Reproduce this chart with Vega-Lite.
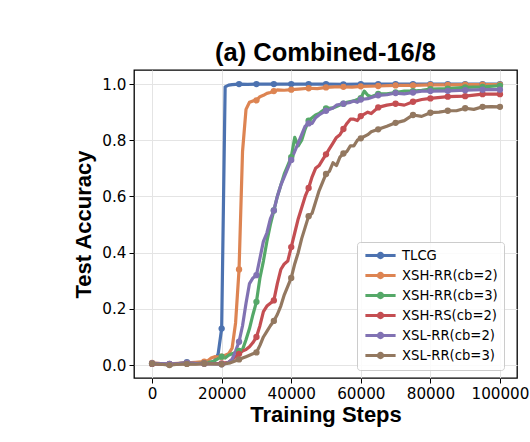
{
  "$schema": "https://vega.github.io/schema/vega-lite/v6.json",
  "description": "Test accuracy over training steps for six methods on Combined-16/8.",
  "width": 383,
  "height": 308,
  "autosize": "none",
  "padding": {"left": 134, "top": 70, "right": 13, "bottom": 64},
  "background": "white",
  "title": {
    "text": "(a) Combined-16/8",
    "font": "Liberation Sans",
    "fontSize": 25.5,
    "fontWeight": "bold",
    "color": "black",
    "anchor": "middle",
    "baseline": "alphabetic",
    "offset": 12,
    "dy": 28
  },
  "config": {
    "view": {"stroke": "black", "strokeWidth": 1.3},
    "axis": {
      "domain": false,
      "grid": true,
      "gridColor": "#e4e4e4",
      "gridWidth": 1,
      "tickColor": "black",
      "tickSize": 5,
      "tickWidth": 1,
      "labelFont": "DejaVu Sans",
      "labelFontSize": 15.2,
      "labelColor": "black",
      "labelPadding": 3,
      "titleFont": "Liberation Sans",
      "titleFontSize": 22,
      "titleFontWeight": "bold",
      "titleColor": "black"
    }
  },
  "data": {
    "values": [
      {"s": "TLCG", "x": 0, "y": 0.006}, {"s": "TLCG", "x": 2500, "y": 0.004}, {"s": "TLCG", "x": 5000, "y": 0.002},
      {"s": "TLCG", "x": 7500, "y": 0.005}, {"s": "TLCG", "x": 10000, "y": 0.01}, {"s": "TLCG", "x": 12500, "y": 0.006},
      {"s": "TLCG", "x": 15000, "y": 0.008}, {"s": "TLCG", "x": 17000, "y": 0.01}, {"s": "TLCG", "x": 18000, "y": 0.015},
      {"s": "TLCG", "x": 19000, "y": 0.04}, {"s": "TLCG", "x": 20000, "y": 0.13}, {"s": "TLCG", "x": 21000, "y": 0.99},
      {"s": "TLCG", "x": 22000, "y": 0.996}, {"s": "TLCG", "x": 23000, "y": 0.998}, {"s": "TLCG", "x": 25000, "y": 1.0},
      {"s": "TLCG", "x": 27500, "y": 0.999}, {"s": "TLCG", "x": 30000, "y": 1.0}, {"s": "TLCG", "x": 35000, "y": 1.0},
      {"s": "TLCG", "x": 40000, "y": 1.0}, {"s": "TLCG", "x": 45000, "y": 1.0}, {"s": "TLCG", "x": 50000, "y": 1.0},
      {"s": "TLCG", "x": 55000, "y": 0.999}, {"s": "TLCG", "x": 60000, "y": 1.0}, {"s": "TLCG", "x": 65000, "y": 1.0},
      {"s": "TLCG", "x": 70000, "y": 1.0}, {"s": "TLCG", "x": 75000, "y": 1.0}, {"s": "TLCG", "x": 80000, "y": 1.0},
      {"s": "TLCG", "x": 85000, "y": 1.0}, {"s": "TLCG", "x": 90000, "y": 1.0}, {"s": "TLCG", "x": 95000, "y": 1.0},
      {"s": "TLCG", "x": 100000, "y": 1.0},

      {"s": "XSH-RR(cb=2)", "x": 0, "y": 0.008}, {"s": "XSH-RR(cb=2)", "x": 2500, "y": 0.005}, {"s": "XSH-RR(cb=2)", "x": 5000, "y": 0.004},
      {"s": "XSH-RR(cb=2)", "x": 7500, "y": 0.006}, {"s": "XSH-RR(cb=2)", "x": 10000, "y": 0.008}, {"s": "XSH-RR(cb=2)", "x": 12500, "y": 0.01},
      {"s": "XSH-RR(cb=2)", "x": 15000, "y": 0.012}, {"s": "XSH-RR(cb=2)", "x": 16000, "y": 0.015}, {"s": "XSH-RR(cb=2)", "x": 17000, "y": 0.025},
      {"s": "XSH-RR(cb=2)", "x": 18000, "y": 0.03}, {"s": "XSH-RR(cb=2)", "x": 19000, "y": 0.028}, {"s": "XSH-RR(cb=2)", "x": 20000, "y": 0.03},
      {"s": "XSH-RR(cb=2)", "x": 21000, "y": 0.035}, {"s": "XSH-RR(cb=2)", "x": 22000, "y": 0.04}, {"s": "XSH-RR(cb=2)", "x": 23000, "y": 0.06},
      {"s": "XSH-RR(cb=2)", "x": 24000, "y": 0.15}, {"s": "XSH-RR(cb=2)", "x": 25000, "y": 0.34}, {"s": "XSH-RR(cb=2)", "x": 26000, "y": 0.76},
      {"s": "XSH-RR(cb=2)", "x": 27000, "y": 0.91}, {"s": "XSH-RR(cb=2)", "x": 28000, "y": 0.935}, {"s": "XSH-RR(cb=2)", "x": 29000, "y": 0.94},
      {"s": "XSH-RR(cb=2)", "x": 30000, "y": 0.942}, {"s": "XSH-RR(cb=2)", "x": 31000, "y": 0.955}, {"s": "XSH-RR(cb=2)", "x": 32000, "y": 0.96},
      {"s": "XSH-RR(cb=2)", "x": 33000, "y": 0.967}, {"s": "XSH-RR(cb=2)", "x": 34000, "y": 0.97}, {"s": "XSH-RR(cb=2)", "x": 35000, "y": 0.975},
      {"s": "XSH-RR(cb=2)", "x": 36000, "y": 0.979}, {"s": "XSH-RR(cb=2)", "x": 38000, "y": 0.978}, {"s": "XSH-RR(cb=2)", "x": 40000, "y": 0.98},
      {"s": "XSH-RR(cb=2)", "x": 42000, "y": 0.982}, {"s": "XSH-RR(cb=2)", "x": 45000, "y": 0.985}, {"s": "XSH-RR(cb=2)", "x": 47500, "y": 0.984},
      {"s": "XSH-RR(cb=2)", "x": 50000, "y": 0.988}, {"s": "XSH-RR(cb=2)", "x": 52500, "y": 0.99}, {"s": "XSH-RR(cb=2)", "x": 55000, "y": 0.99},
      {"s": "XSH-RR(cb=2)", "x": 57500, "y": 0.989}, {"s": "XSH-RR(cb=2)", "x": 60000, "y": 0.992}, {"s": "XSH-RR(cb=2)", "x": 65000, "y": 0.993},
      {"s": "XSH-RR(cb=2)", "x": 70000, "y": 0.995}, {"s": "XSH-RR(cb=2)", "x": 75000, "y": 0.995}, {"s": "XSH-RR(cb=2)", "x": 80000, "y": 0.997},
      {"s": "XSH-RR(cb=2)", "x": 85000, "y": 0.997}, {"s": "XSH-RR(cb=2)", "x": 90000, "y": 0.998}, {"s": "XSH-RR(cb=2)", "x": 95000, "y": 0.998},
      {"s": "XSH-RR(cb=2)", "x": 100000, "y": 0.998},

      {"s": "XSH-RR(cb=3)", "x": 0, "y": 0.005}, {"s": "XSH-RR(cb=3)", "x": 2500, "y": 0.003}, {"s": "XSH-RR(cb=3)", "x": 5000, "y": 0.002},
      {"s": "XSH-RR(cb=3)", "x": 7500, "y": 0.004}, {"s": "XSH-RR(cb=3)", "x": 10000, "y": 0.006}, {"s": "XSH-RR(cb=3)", "x": 12500, "y": 0.005},
      {"s": "XSH-RR(cb=3)", "x": 15000, "y": 0.007}, {"s": "XSH-RR(cb=3)", "x": 17500, "y": 0.012}, {"s": "XSH-RR(cb=3)", "x": 20000, "y": 0.03},
      {"s": "XSH-RR(cb=3)", "x": 21000, "y": 0.025}, {"s": "XSH-RR(cb=3)", "x": 22000, "y": 0.035}, {"s": "XSH-RR(cb=3)", "x": 23000, "y": 0.04},
      {"s": "XSH-RR(cb=3)", "x": 24000, "y": 0.045}, {"s": "XSH-RR(cb=3)", "x": 25000, "y": 0.05}, {"s": "XSH-RR(cb=3)", "x": 26000, "y": 0.055},
      {"s": "XSH-RR(cb=3)", "x": 27000, "y": 0.09}, {"s": "XSH-RR(cb=3)", "x": 28000, "y": 0.13}, {"s": "XSH-RR(cb=3)", "x": 29000, "y": 0.18},
      {"s": "XSH-RR(cb=3)", "x": 30000, "y": 0.225}, {"s": "XSH-RR(cb=3)", "x": 31000, "y": 0.31}, {"s": "XSH-RR(cb=3)", "x": 32000, "y": 0.37},
      {"s": "XSH-RR(cb=3)", "x": 33000, "y": 0.44}, {"s": "XSH-RR(cb=3)", "x": 34000, "y": 0.5}, {"s": "XSH-RR(cb=3)", "x": 35000, "y": 0.55},
      {"s": "XSH-RR(cb=3)", "x": 36000, "y": 0.6}, {"s": "XSH-RR(cb=3)", "x": 37000, "y": 0.64}, {"s": "XSH-RR(cb=3)", "x": 38000, "y": 0.68},
      {"s": "XSH-RR(cb=3)", "x": 39000, "y": 0.71}, {"s": "XSH-RR(cb=3)", "x": 40000, "y": 0.74}, {"s": "XSH-RR(cb=3)", "x": 41000, "y": 0.81},
      {"s": "XSH-RR(cb=3)", "x": 42000, "y": 0.78}, {"s": "XSH-RR(cb=3)", "x": 43000, "y": 0.8}, {"s": "XSH-RR(cb=3)", "x": 44000, "y": 0.84},
      {"s": "XSH-RR(cb=3)", "x": 45000, "y": 0.87}, {"s": "XSH-RR(cb=3)", "x": 46000, "y": 0.88}, {"s": "XSH-RR(cb=3)", "x": 47000, "y": 0.89},
      {"s": "XSH-RR(cb=3)", "x": 48000, "y": 0.895}, {"s": "XSH-RR(cb=3)", "x": 49000, "y": 0.905}, {"s": "XSH-RR(cb=3)", "x": 50000, "y": 0.913},
      {"s": "XSH-RR(cb=3)", "x": 52000, "y": 0.915}, {"s": "XSH-RR(cb=3)", "x": 54000, "y": 0.925}, {"s": "XSH-RR(cb=3)", "x": 55000, "y": 0.93},
      {"s": "XSH-RR(cb=3)", "x": 56000, "y": 0.935}, {"s": "XSH-RR(cb=3)", "x": 58000, "y": 0.94}, {"s": "XSH-RR(cb=3)", "x": 60000, "y": 0.95},
      {"s": "XSH-RR(cb=3)", "x": 61000, "y": 0.975}, {"s": "XSH-RR(cb=3)", "x": 62000, "y": 0.96}, {"s": "XSH-RR(cb=3)", "x": 63000, "y": 0.955},
      {"s": "XSH-RR(cb=3)", "x": 65000, "y": 0.965}, {"s": "XSH-RR(cb=3)", "x": 67500, "y": 0.965}, {"s": "XSH-RR(cb=3)", "x": 70000, "y": 0.97},
      {"s": "XSH-RR(cb=3)", "x": 72500, "y": 0.975}, {"s": "XSH-RR(cb=3)", "x": 75000, "y": 0.975}, {"s": "XSH-RR(cb=3)", "x": 77500, "y": 0.978},
      {"s": "XSH-RR(cb=3)", "x": 80000, "y": 0.982}, {"s": "XSH-RR(cb=3)", "x": 85000, "y": 0.984}, {"s": "XSH-RR(cb=3)", "x": 90000, "y": 0.988},
      {"s": "XSH-RR(cb=3)", "x": 95000, "y": 0.99}, {"s": "XSH-RR(cb=3)", "x": 100000, "y": 0.994},

      {"s": "XSH-RS(cb=2)", "x": 0, "y": 0.004}, {"s": "XSH-RS(cb=2)", "x": 2500, "y": 0.003}, {"s": "XSH-RS(cb=2)", "x": 5000, "y": 0.002},
      {"s": "XSH-RS(cb=2)", "x": 7500, "y": 0.004}, {"s": "XSH-RS(cb=2)", "x": 10000, "y": 0.006}, {"s": "XSH-RS(cb=2)", "x": 12500, "y": 0.005},
      {"s": "XSH-RS(cb=2)", "x": 15000, "y": 0.006}, {"s": "XSH-RS(cb=2)", "x": 17500, "y": 0.005}, {"s": "XSH-RS(cb=2)", "x": 20000, "y": 0.006},
      {"s": "XSH-RS(cb=2)", "x": 22000, "y": 0.01}, {"s": "XSH-RS(cb=2)", "x": 23000, "y": 0.02}, {"s": "XSH-RS(cb=2)", "x": 24000, "y": 0.03},
      {"s": "XSH-RS(cb=2)", "x": 25000, "y": 0.04}, {"s": "XSH-RS(cb=2)", "x": 26000, "y": 0.05}, {"s": "XSH-RS(cb=2)", "x": 27000, "y": 0.055},
      {"s": "XSH-RS(cb=2)", "x": 28000, "y": 0.065}, {"s": "XSH-RS(cb=2)", "x": 29000, "y": 0.08}, {"s": "XSH-RS(cb=2)", "x": 30000, "y": 0.1},
      {"s": "XSH-RS(cb=2)", "x": 31000, "y": 0.14}, {"s": "XSH-RS(cb=2)", "x": 32000, "y": 0.19}, {"s": "XSH-RS(cb=2)", "x": 33000, "y": 0.21},
      {"s": "XSH-RS(cb=2)", "x": 34000, "y": 0.22}, {"s": "XSH-RS(cb=2)", "x": 35000, "y": 0.23}, {"s": "XSH-RS(cb=2)", "x": 36000, "y": 0.29},
      {"s": "XSH-RS(cb=2)", "x": 37000, "y": 0.34}, {"s": "XSH-RS(cb=2)", "x": 38000, "y": 0.36}, {"s": "XSH-RS(cb=2)", "x": 39000, "y": 0.37},
      {"s": "XSH-RS(cb=2)", "x": 40000, "y": 0.42}, {"s": "XSH-RS(cb=2)", "x": 41000, "y": 0.47}, {"s": "XSH-RS(cb=2)", "x": 42000, "y": 0.52},
      {"s": "XSH-RS(cb=2)", "x": 43000, "y": 0.56}, {"s": "XSH-RS(cb=2)", "x": 44000, "y": 0.6}, {"s": "XSH-RS(cb=2)", "x": 45000, "y": 0.63},
      {"s": "XSH-RS(cb=2)", "x": 46000, "y": 0.67}, {"s": "XSH-RS(cb=2)", "x": 47000, "y": 0.7}, {"s": "XSH-RS(cb=2)", "x": 48000, "y": 0.71},
      {"s": "XSH-RS(cb=2)", "x": 49000, "y": 0.73}, {"s": "XSH-RS(cb=2)", "x": 50000, "y": 0.75}, {"s": "XSH-RS(cb=2)", "x": 51000, "y": 0.77},
      {"s": "XSH-RS(cb=2)", "x": 52000, "y": 0.79}, {"s": "XSH-RS(cb=2)", "x": 53000, "y": 0.81}, {"s": "XSH-RS(cb=2)", "x": 54000, "y": 0.82},
      {"s": "XSH-RS(cb=2)", "x": 55000, "y": 0.84}, {"s": "XSH-RS(cb=2)", "x": 56000, "y": 0.86}, {"s": "XSH-RS(cb=2)", "x": 57000, "y": 0.875},
      {"s": "XSH-RS(cb=2)", "x": 58000, "y": 0.875}, {"s": "XSH-RS(cb=2)", "x": 59000, "y": 0.87}, {"s": "XSH-RS(cb=2)", "x": 60000, "y": 0.886},
      {"s": "XSH-RS(cb=2)", "x": 62000, "y": 0.9}, {"s": "XSH-RS(cb=2)", "x": 63000, "y": 0.895}, {"s": "XSH-RS(cb=2)", "x": 65000, "y": 0.917},
      {"s": "XSH-RS(cb=2)", "x": 67500, "y": 0.925}, {"s": "XSH-RS(cb=2)", "x": 70000, "y": 0.93}, {"s": "XSH-RS(cb=2)", "x": 72500, "y": 0.925},
      {"s": "XSH-RS(cb=2)", "x": 75000, "y": 0.937}, {"s": "XSH-RS(cb=2)", "x": 77500, "y": 0.945}, {"s": "XSH-RS(cb=2)", "x": 80000, "y": 0.949},
      {"s": "XSH-RS(cb=2)", "x": 85000, "y": 0.955}, {"s": "XSH-RS(cb=2)", "x": 90000, "y": 0.957}, {"s": "XSH-RS(cb=2)", "x": 95000, "y": 0.964},
      {"s": "XSH-RS(cb=2)", "x": 100000, "y": 0.964},

      {"s": "XSL-RR(cb=2)", "x": 0, "y": 0.006}, {"s": "XSL-RR(cb=2)", "x": 2500, "y": 0.005}, {"s": "XSL-RR(cb=2)", "x": 5000, "y": 0.004},
      {"s": "XSL-RR(cb=2)", "x": 7500, "y": 0.005}, {"s": "XSL-RR(cb=2)", "x": 10000, "y": 0.008}, {"s": "XSL-RR(cb=2)", "x": 12500, "y": 0.006},
      {"s": "XSL-RR(cb=2)", "x": 15000, "y": 0.005}, {"s": "XSL-RR(cb=2)", "x": 17500, "y": 0.004}, {"s": "XSL-RR(cb=2)", "x": 20000, "y": 0.003},
      {"s": "XSL-RR(cb=2)", "x": 21000, "y": 0.005}, {"s": "XSL-RR(cb=2)", "x": 22000, "y": 0.01}, {"s": "XSL-RR(cb=2)", "x": 23000, "y": 0.02},
      {"s": "XSL-RR(cb=2)", "x": 24000, "y": 0.05}, {"s": "XSL-RR(cb=2)", "x": 25000, "y": 0.083}, {"s": "XSL-RR(cb=2)", "x": 26000, "y": 0.14},
      {"s": "XSL-RR(cb=2)", "x": 27000, "y": 0.22}, {"s": "XSL-RR(cb=2)", "x": 28000, "y": 0.29}, {"s": "XSL-RR(cb=2)", "x": 29000, "y": 0.31},
      {"s": "XSL-RR(cb=2)", "x": 30000, "y": 0.32}, {"s": "XSL-RR(cb=2)", "x": 31000, "y": 0.38}, {"s": "XSL-RR(cb=2)", "x": 32000, "y": 0.44},
      {"s": "XSL-RR(cb=2)", "x": 33000, "y": 0.47}, {"s": "XSL-RR(cb=2)", "x": 34000, "y": 0.52}, {"s": "XSL-RR(cb=2)", "x": 35000, "y": 0.55},
      {"s": "XSL-RR(cb=2)", "x": 36000, "y": 0.6}, {"s": "XSL-RR(cb=2)", "x": 37000, "y": 0.64}, {"s": "XSL-RR(cb=2)", "x": 38000, "y": 0.67},
      {"s": "XSL-RR(cb=2)", "x": 39000, "y": 0.7}, {"s": "XSL-RR(cb=2)", "x": 40000, "y": 0.73}, {"s": "XSL-RR(cb=2)", "x": 41000, "y": 0.76},
      {"s": "XSL-RR(cb=2)", "x": 42000, "y": 0.79}, {"s": "XSL-RR(cb=2)", "x": 43000, "y": 0.82}, {"s": "XSL-RR(cb=2)", "x": 44000, "y": 0.85},
      {"s": "XSL-RR(cb=2)", "x": 45000, "y": 0.86}, {"s": "XSL-RR(cb=2)", "x": 46000, "y": 0.86}, {"s": "XSL-RR(cb=2)", "x": 47000, "y": 0.88},
      {"s": "XSL-RR(cb=2)", "x": 48000, "y": 0.89}, {"s": "XSL-RR(cb=2)", "x": 50000, "y": 0.905}, {"s": "XSL-RR(cb=2)", "x": 52000, "y": 0.915},
      {"s": "XSL-RR(cb=2)", "x": 53000, "y": 0.925}, {"s": "XSL-RR(cb=2)", "x": 55000, "y": 0.93}, {"s": "XSL-RR(cb=2)", "x": 57000, "y": 0.935},
      {"s": "XSL-RR(cb=2)", "x": 58000, "y": 0.94}, {"s": "XSL-RR(cb=2)", "x": 59000, "y": 0.935}, {"s": "XSL-RR(cb=2)", "x": 60000, "y": 0.945},
      {"s": "XSL-RR(cb=2)", "x": 62000, "y": 0.948}, {"s": "XSL-RR(cb=2)", "x": 65000, "y": 0.96}, {"s": "XSL-RR(cb=2)", "x": 67500, "y": 0.962},
      {"s": "XSL-RR(cb=2)", "x": 70000, "y": 0.968}, {"s": "XSL-RR(cb=2)", "x": 72500, "y": 0.965}, {"s": "XSL-RR(cb=2)", "x": 75000, "y": 0.97},
      {"s": "XSL-RR(cb=2)", "x": 77500, "y": 0.975}, {"s": "XSL-RR(cb=2)", "x": 80000, "y": 0.975}, {"s": "XSL-RR(cb=2)", "x": 85000, "y": 0.976},
      {"s": "XSL-RR(cb=2)", "x": 90000, "y": 0.978}, {"s": "XSL-RR(cb=2)", "x": 95000, "y": 0.98}, {"s": "XSL-RR(cb=2)", "x": 100000, "y": 0.98},

      {"s": "XSL-RR(cb=3)", "x": 0, "y": 0.005}, {"s": "XSL-RR(cb=3)", "x": 2500, "y": 0.003}, {"s": "XSL-RR(cb=3)", "x": 5000, "y": 0.0},
      {"s": "XSL-RR(cb=3)", "x": 7500, "y": 0.003}, {"s": "XSL-RR(cb=3)", "x": 10000, "y": 0.004}, {"s": "XSL-RR(cb=3)", "x": 12500, "y": 0.003},
      {"s": "XSL-RR(cb=3)", "x": 15000, "y": 0.005}, {"s": "XSL-RR(cb=3)", "x": 17500, "y": 0.004}, {"s": "XSL-RR(cb=3)", "x": 20000, "y": 0.003},
      {"s": "XSL-RR(cb=3)", "x": 22500, "y": 0.008}, {"s": "XSL-RR(cb=3)", "x": 25000, "y": 0.02}, {"s": "XSL-RR(cb=3)", "x": 26000, "y": 0.025},
      {"s": "XSL-RR(cb=3)", "x": 27000, "y": 0.03}, {"s": "XSL-RR(cb=3)", "x": 28000, "y": 0.035}, {"s": "XSL-RR(cb=3)", "x": 29000, "y": 0.04},
      {"s": "XSL-RR(cb=3)", "x": 30000, "y": 0.045}, {"s": "XSL-RR(cb=3)", "x": 31000, "y": 0.07}, {"s": "XSL-RR(cb=3)", "x": 32000, "y": 0.1},
      {"s": "XSL-RR(cb=3)", "x": 33000, "y": 0.12}, {"s": "XSL-RR(cb=3)", "x": 34000, "y": 0.14}, {"s": "XSL-RR(cb=3)", "x": 35000, "y": 0.157},
      {"s": "XSL-RR(cb=3)", "x": 36000, "y": 0.18}, {"s": "XSL-RR(cb=3)", "x": 37000, "y": 0.21}, {"s": "XSL-RR(cb=3)", "x": 38000, "y": 0.25},
      {"s": "XSL-RR(cb=3)", "x": 39000, "y": 0.28}, {"s": "XSL-RR(cb=3)", "x": 40000, "y": 0.31}, {"s": "XSL-RR(cb=3)", "x": 41000, "y": 0.36},
      {"s": "XSL-RR(cb=3)", "x": 42000, "y": 0.4}, {"s": "XSL-RR(cb=3)", "x": 43000, "y": 0.45}, {"s": "XSL-RR(cb=3)", "x": 44000, "y": 0.49},
      {"s": "XSL-RR(cb=3)", "x": 45000, "y": 0.53}, {"s": "XSL-RR(cb=3)", "x": 46000, "y": 0.54}, {"s": "XSL-RR(cb=3)", "x": 47000, "y": 0.58},
      {"s": "XSL-RR(cb=3)", "x": 48000, "y": 0.62}, {"s": "XSL-RR(cb=3)", "x": 49000, "y": 0.65}, {"s": "XSL-RR(cb=3)", "x": 50000, "y": 0.68},
      {"s": "XSL-RR(cb=3)", "x": 51000, "y": 0.69}, {"s": "XSL-RR(cb=3)", "x": 52000, "y": 0.72}, {"s": "XSL-RR(cb=3)", "x": 53000, "y": 0.71},
      {"s": "XSL-RR(cb=3)", "x": 54000, "y": 0.74}, {"s": "XSL-RR(cb=3)", "x": 55000, "y": 0.753}, {"s": "XSL-RR(cb=3)", "x": 56000, "y": 0.76},
      {"s": "XSL-RR(cb=3)", "x": 57000, "y": 0.78}, {"s": "XSL-RR(cb=3)", "x": 58000, "y": 0.78}, {"s": "XSL-RR(cb=3)", "x": 59000, "y": 0.8},
      {"s": "XSL-RR(cb=3)", "x": 60000, "y": 0.807}, {"s": "XSL-RR(cb=3)", "x": 62000, "y": 0.82}, {"s": "XSL-RR(cb=3)", "x": 63000, "y": 0.83},
      {"s": "XSL-RR(cb=3)", "x": 65000, "y": 0.839}, {"s": "XSL-RR(cb=3)", "x": 67500, "y": 0.85}, {"s": "XSL-RR(cb=3)", "x": 70000, "y": 0.862},
      {"s": "XSL-RR(cb=3)", "x": 72500, "y": 0.87}, {"s": "XSL-RR(cb=3)", "x": 75000, "y": 0.89}, {"s": "XSL-RR(cb=3)", "x": 77500, "y": 0.885},
      {"s": "XSL-RR(cb=3)", "x": 80000, "y": 0.898}, {"s": "XSL-RR(cb=3)", "x": 82500, "y": 0.9}, {"s": "XSL-RR(cb=3)", "x": 85000, "y": 0.905},
      {"s": "XSL-RR(cb=3)", "x": 87500, "y": 0.905}, {"s": "XSL-RR(cb=3)", "x": 90000, "y": 0.914}, {"s": "XSL-RR(cb=3)", "x": 92500, "y": 0.91},
      {"s": "XSL-RR(cb=3)", "x": 95000, "y": 0.919}, {"s": "XSL-RR(cb=3)", "x": 97500, "y": 0.92}, {"s": "XSL-RR(cb=3)", "x": 100000, "y": 0.919}
    ]
  },
  "encoding": {
    "x": {
      "field": "x",
      "type": "quantitative",
      "title": "Training Steps",
      "scale": {"domain": [-5200, 104900], "nice": false, "zero": false},
      "axis": {"values": [0, 20000, 40000, 60000, 80000, 100000], "format": "d", "titlePadding": 3}
    },
    "y": {
      "field": "y",
      "type": "quantitative",
      "title": "Test Accuracy",
      "scale": {"domain": [-0.046, 1.05], "nice": false, "zero": false},
      "axis": {"values": [0, 0.2, 0.4, 0.6, 0.8, 1.0], "format": ".1f", "titlePadding": 6}
    },
    "color": {
      "field": "s",
      "type": "nominal",
      "scale": {
        "domain": ["TLCG", "XSH-RR(cb=2)", "XSH-RR(cb=3)", "XSH-RS(cb=2)", "XSL-RR(cb=2)", "XSL-RR(cb=3)"],
        "range": ["#4C72B0", "#DD8452", "#55A868", "#C44E52", "#8172B3", "#937860"]
      },
      "legend": {
        "title": null,
        "orient": "none",
        "legendX": 223,
        "legendY": 172,
        "padding": 6,
        "rowPadding": 3,
        "fillColor": "rgba(255,255,255,0.85)",
        "strokeColor": "#cccccc",
        "cornerRadius": 3,
        "labelFont": "DejaVu Sans",
        "labelFontSize": 13.2,
        "labelColor": "black",
        "labelOffset": 14,
        "symbolType": "M-2.6,0L2.6,0M-0.38,0A0.38,0.38,0,1,1,0.38,0A0.38,0.38,0,1,1,-0.38,0Z",
        "symbolSize": 135,
        "symbolStrokeWidth": 3,
        "symbolOffset": 10,
        "encode": {
          "symbols": {"update": {"fill": {"scale": "color", "field": "value"}, "opacity": {"value": 1}}}
        }
      }
    }
  },
  "layer": [
    {"mark": {"type": "line", "strokeWidth": 3.2, "strokeCap": "round", "strokeJoin": "round"}},
    {
      "transform": [{"filter": "datum.x % 5000 === 0"}],
      "mark": {"type": "point", "filled": true, "size": 40, "opacity": 1}
    }
  ]
}
